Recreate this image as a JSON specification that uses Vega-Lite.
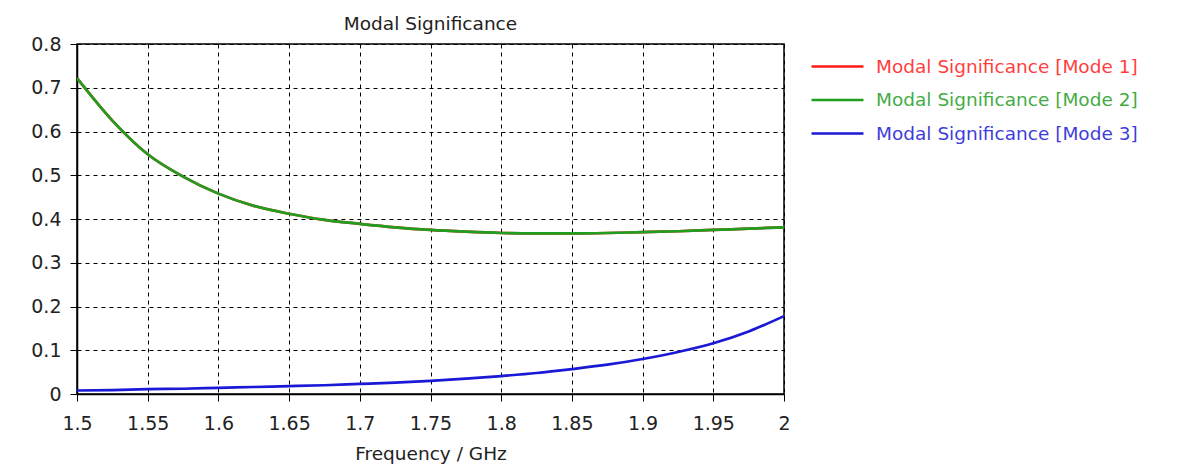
{
  "$schema": "https://vega.github.io/schema/vega-lite/v6.json",
  "autosize": "none",
  "width": 707,
  "height": 350,
  "padding": {"left": 77, "top": 44, "right": 395, "bottom": 79},
  "background": "white",
  "title": {"text": "Modal Significance", "font": "DejaVu Sans", "fontSize": 18.5, "fontWeight": "normal", "color": "#222", "anchor": "middle", "offset": 2},
  "config": {
    "view": {"stroke": "#000", "strokeWidth": 1.5},
    "axis": {"labelFont": "DejaVu Sans", "labelFontSize": 19, "labelColor": "#222", "titleFont": "DejaVu Sans", "titleFontSize": 18.5, "titleFontWeight": "normal", "titleColor": "#222", "gridColor": "#000", "gridDash": [4, 4], "gridOpacity": 1, "gridWidth": 1, "tickColor": "#000", "tickSize": 7, "domainColor": "#000", "domainWidth": 1.5}
  },
  "datasets": {
    "pts": [
      {"f": 1.5, "mode": "Modal Significance [Mode 1]", "v": 0.722},
      {"f": 1.525, "mode": "Modal Significance [Mode 1]", "v": 0.625},
      {"f": 1.55, "mode": "Modal Significance [Mode 1]", "v": 0.548},
      {"f": 1.575, "mode": "Modal Significance [Mode 1]", "v": 0.497},
      {"f": 1.6, "mode": "Modal Significance [Mode 1]", "v": 0.458},
      {"f": 1.625, "mode": "Modal Significance [Mode 1]", "v": 0.43},
      {"f": 1.65, "mode": "Modal Significance [Mode 1]", "v": 0.412},
      {"f": 1.675, "mode": "Modal Significance [Mode 1]", "v": 0.398},
      {"f": 1.7, "mode": "Modal Significance [Mode 1]", "v": 0.389},
      {"f": 1.725, "mode": "Modal Significance [Mode 1]", "v": 0.381},
      {"f": 1.75, "mode": "Modal Significance [Mode 1]", "v": 0.375},
      {"f": 1.775, "mode": "Modal Significance [Mode 1]", "v": 0.371},
      {"f": 1.8, "mode": "Modal Significance [Mode 1]", "v": 0.368},
      {"f": 1.825, "mode": "Modal Significance [Mode 1]", "v": 0.367},
      {"f": 1.85, "mode": "Modal Significance [Mode 1]", "v": 0.367},
      {"f": 1.875, "mode": "Modal Significance [Mode 1]", "v": 0.368},
      {"f": 1.9, "mode": "Modal Significance [Mode 1]", "v": 0.37},
      {"f": 1.925, "mode": "Modal Significance [Mode 1]", "v": 0.372},
      {"f": 1.95, "mode": "Modal Significance [Mode 1]", "v": 0.375},
      {"f": 1.975, "mode": "Modal Significance [Mode 1]", "v": 0.378},
      {"f": 2.0, "mode": "Modal Significance [Mode 1]", "v": 0.381},
      {"f": 1.5, "mode": "Modal Significance [Mode 2]", "v": 0.722},
      {"f": 1.525, "mode": "Modal Significance [Mode 2]", "v": 0.625},
      {"f": 1.55, "mode": "Modal Significance [Mode 2]", "v": 0.548},
      {"f": 1.575, "mode": "Modal Significance [Mode 2]", "v": 0.497},
      {"f": 1.6, "mode": "Modal Significance [Mode 2]", "v": 0.458},
      {"f": 1.625, "mode": "Modal Significance [Mode 2]", "v": 0.43},
      {"f": 1.65, "mode": "Modal Significance [Mode 2]", "v": 0.412},
      {"f": 1.675, "mode": "Modal Significance [Mode 2]", "v": 0.398},
      {"f": 1.7, "mode": "Modal Significance [Mode 2]", "v": 0.389},
      {"f": 1.725, "mode": "Modal Significance [Mode 2]", "v": 0.381},
      {"f": 1.75, "mode": "Modal Significance [Mode 2]", "v": 0.375},
      {"f": 1.775, "mode": "Modal Significance [Mode 2]", "v": 0.371},
      {"f": 1.8, "mode": "Modal Significance [Mode 2]", "v": 0.368},
      {"f": 1.825, "mode": "Modal Significance [Mode 2]", "v": 0.367},
      {"f": 1.85, "mode": "Modal Significance [Mode 2]", "v": 0.367},
      {"f": 1.875, "mode": "Modal Significance [Mode 2]", "v": 0.368},
      {"f": 1.9, "mode": "Modal Significance [Mode 2]", "v": 0.37},
      {"f": 1.925, "mode": "Modal Significance [Mode 2]", "v": 0.372},
      {"f": 1.95, "mode": "Modal Significance [Mode 2]", "v": 0.375},
      {"f": 1.975, "mode": "Modal Significance [Mode 2]", "v": 0.378},
      {"f": 2.0, "mode": "Modal Significance [Mode 2]", "v": 0.381},
      {"f": 1.5, "mode": "Modal Significance [Mode 3]", "v": 0.008},
      {"f": 1.525, "mode": "Modal Significance [Mode 3]", "v": 0.009},
      {"f": 1.55, "mode": "Modal Significance [Mode 3]", "v": 0.011},
      {"f": 1.575, "mode": "Modal Significance [Mode 3]", "v": 0.012},
      {"f": 1.6, "mode": "Modal Significance [Mode 3]", "v": 0.014},
      {"f": 1.625, "mode": "Modal Significance [Mode 3]", "v": 0.016},
      {"f": 1.65, "mode": "Modal Significance [Mode 3]", "v": 0.018},
      {"f": 1.675, "mode": "Modal Significance [Mode 3]", "v": 0.02},
      {"f": 1.7, "mode": "Modal Significance [Mode 3]", "v": 0.023},
      {"f": 1.725, "mode": "Modal Significance [Mode 3]", "v": 0.026},
      {"f": 1.75, "mode": "Modal Significance [Mode 3]", "v": 0.03},
      {"f": 1.775, "mode": "Modal Significance [Mode 3]", "v": 0.035},
      {"f": 1.8, "mode": "Modal Significance [Mode 3]", "v": 0.041},
      {"f": 1.825, "mode": "Modal Significance [Mode 3]", "v": 0.048},
      {"f": 1.85, "mode": "Modal Significance [Mode 3]", "v": 0.057},
      {"f": 1.875, "mode": "Modal Significance [Mode 3]", "v": 0.067},
      {"f": 1.9, "mode": "Modal Significance [Mode 3]", "v": 0.08},
      {"f": 1.925, "mode": "Modal Significance [Mode 3]", "v": 0.096},
      {"f": 1.95, "mode": "Modal Significance [Mode 3]", "v": 0.116},
      {"f": 1.975, "mode": "Modal Significance [Mode 3]", "v": 0.143},
      {"f": 2.0, "mode": "Modal Significance [Mode 3]", "v": 0.178}
    ]
  },
  "data": {"name": "pts"},
  "mark": {"type": "line", "strokeWidth": 2.7, "interpolate": "monotone", "clip": true},
  "encoding": {
    "x": {"field": "f", "type": "quantitative", "scale": {"domain": [1.5, 2.0], "nice": false, "zero": false},
      "axis": {"title": "Frequency / GHz", "values": [1.5, 1.55, 1.6, 1.65, 1.7, 1.75, 1.8, 1.85, 1.9, 1.95, 2.0], "labelExpr": "datum.value == 2 ? '2' : format(datum.value, '~g')", "labelPadding": 13, "titlePadding": 11, "labelFlush": false}},
    "y": {"field": "v", "type": "quantitative", "scale": {"domain": [0, 0.8], "nice": false},
      "axis": {"title": null, "values": [0, 0.1, 0.2, 0.3, 0.4, 0.5, 0.6, 0.7, 0.8], "labelExpr": "datum.value == 0 ? '0' : format(datum.value, '.1f')", "labelPadding": 9, "labelFlush": false}},
    "color": {"field": "mode", "type": "nominal",
      "scale": {"domain": ["Modal Significance [Mode 1]", "Modal Significance [Mode 2]", "Modal Significance [Mode 3]"], "range": ["#ff1a1a", "#1f9e1f", "#1a1ad6"]},
      "legend": {"title": null, "orient": "none", "legendX": 733, "legendY": 6, "symbolType": "stroke", "symbolSize": 2700, "symbolStrokeWidth": 2.7, "labelFont": "DejaVu Sans", "labelFontSize": 18.5, "clipHeight": 33, "rowPadding": 0.5, "labelOffset": 11, "labelLimit": 400,
        "encode": {"labels": {"update": {"fill": {"scale": "color", "field": "value"}, "opacity": {"value": 0.85}}}}}},
    "order": {"field": "mode"}
  }
}
